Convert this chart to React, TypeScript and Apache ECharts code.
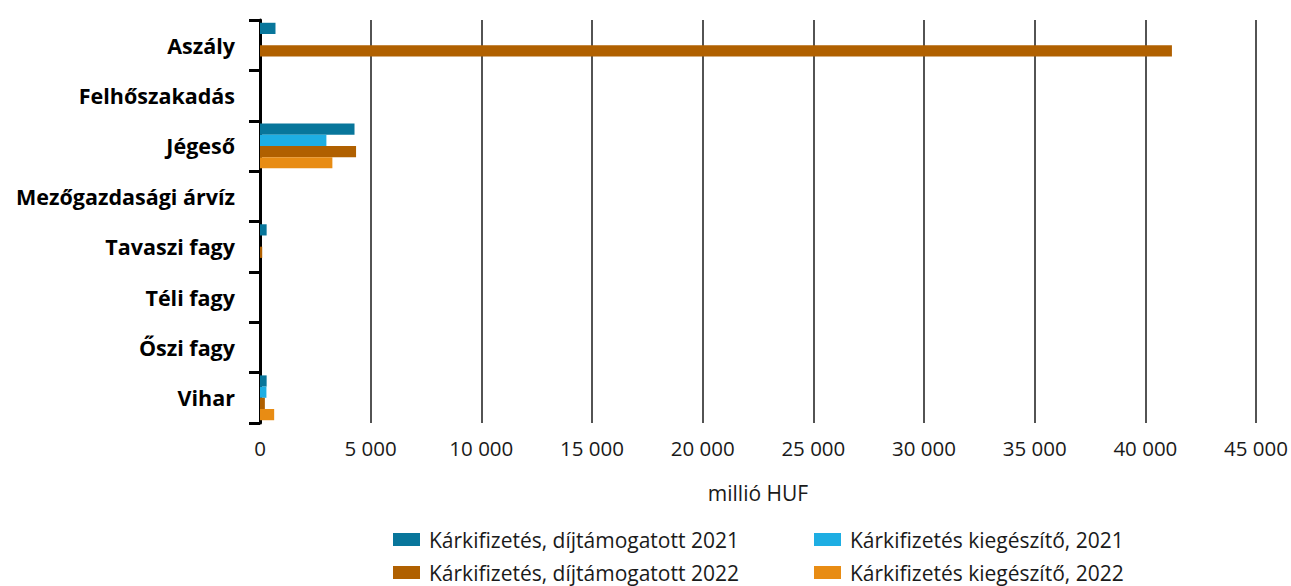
import React, { useEffect, useRef } from "react";
import * as echarts from "echarts";

const categories = [
  "Aszály",
  "Felhőszakadás",
  "Jégeső",
  "Mezőgazdasági árvíz",
  "Tavaszi fagy",
  "Téli fagy",
  "Őszi fagy",
  "Vihar",
];

const seriesNames = [
  "Kárkifizetés, díjtámogatott 2021",
  "Kárkifizetés kiegészítő, 2021",
  "Kárkifizetés, díjtámogatott 2022",
  "Kárkifizetés kiegészítő, 2022",
];

const dijtamogatott2021 = [700, 0, 4270, 0, 300, 0, 0, 300];
const kiegeszito2021 = [0, 0, 3000, 0, 0, 0, 0, 290];
const dijtamogatott2022 = [41200, 0, 4340, 0, 100, 0, 0, 220];
const kiegeszito2022 = [0, 0, 3270, 0, 0, 0, 0, 640];

const colors = ["#08769b", "#1eaee3", "#b06000", "#e88c14"];

const xTicks = { min: 0, max: 45000, interval: 5000 };

const FONT = "'Open Sans', 'Noto Sans', sans-serif";

const legendPos = [
  { left: 393, top: 529 },
  { left: 814, top: 529 },
  { left: 393, top: 562 },
  { left: 814, top: 562 },
];

export default function App() {
  const ref = useRef<HTMLDivElement>(null);
  useEffect(() => {
    if (!ref.current) return;
    const chart = echarts.init(ref.current, undefined, { renderer: "svg" });
    const values = [dijtamogatott2021, kiegeszito2021, dijtamogatott2022, kiegeszito2022];
    chart.setOption({
      animation: false,
      textStyle: { fontFamily: FONT },
      grid: { left: 260, right: 32, top: 20, bottom: 163, containLabel: false },
      legend: seriesNames.map((n, i) => ({
        orient: "horizontal",
        left: legendPos[i].left,
        top: legendPos[i].top,
        padding: 0,
        itemWidth: 27,
        itemHeight: 13,
        icon: "rect",
        data: [n],
        textStyle: {
          fontSize: 21,
          color: "#1a1a1a",
          fontFamily: FONT,
          padding: [0, 0, 0, 4],
        },
      })),
      xAxis: {
        type: "value",
        min: xTicks.min,
        max: xTicks.max,
        interval: xTicks.interval,
        name: "millió HUF",
        nameLocation: "middle",
        nameGap: 59,
        nameTextStyle: { fontSize: 21, color: "#1a1a1a", fontFamily: FONT },
        axisLine: { show: false },
        axisTick: { show: false },
        axisLabel: {
          fontSize: 20.5,
          color: "#1a1a1a",
          margin: 14,
          fontFamily: FONT,
          formatter: (v: number) =>
            String(v).replace(/\B(?=(\d{3})+(?!\d))/g, " "),
        },
        splitLine: { show: true, lineStyle: { color: "#1a1a1a", width: 1.5 } },
      },
      yAxis: {
        type: "category",
        data: categories,
        inverse: true,
        axisLine: { show: true, lineStyle: { color: "#000", width: 3 } },
        axisTick: { show: true, length: 11, lineStyle: { color: "#000", width: 3 } },
        axisLabel: {
          fontSize: 21.5,
          fontWeight: "bold",
          color: "#000",
          margin: 25,
          fontFamily: FONT,
        },
        splitLine: { show: false },
      },
      series: values.map((d, i) => ({
        name: seriesNames[i],
        type: "bar",
        data: d,
        barGap: "0%",
        barCategoryGap: "11%",
        itemStyle: { color: colors[i] },
        z: 3,
      })),
    });
    return () => chart.dispose();
  }, []);
  return (
    <div
      ref={ref}
      style={{ position: "absolute", left: 0, top: 0, width: 1291, height: 586 }}
    />
  );
}
